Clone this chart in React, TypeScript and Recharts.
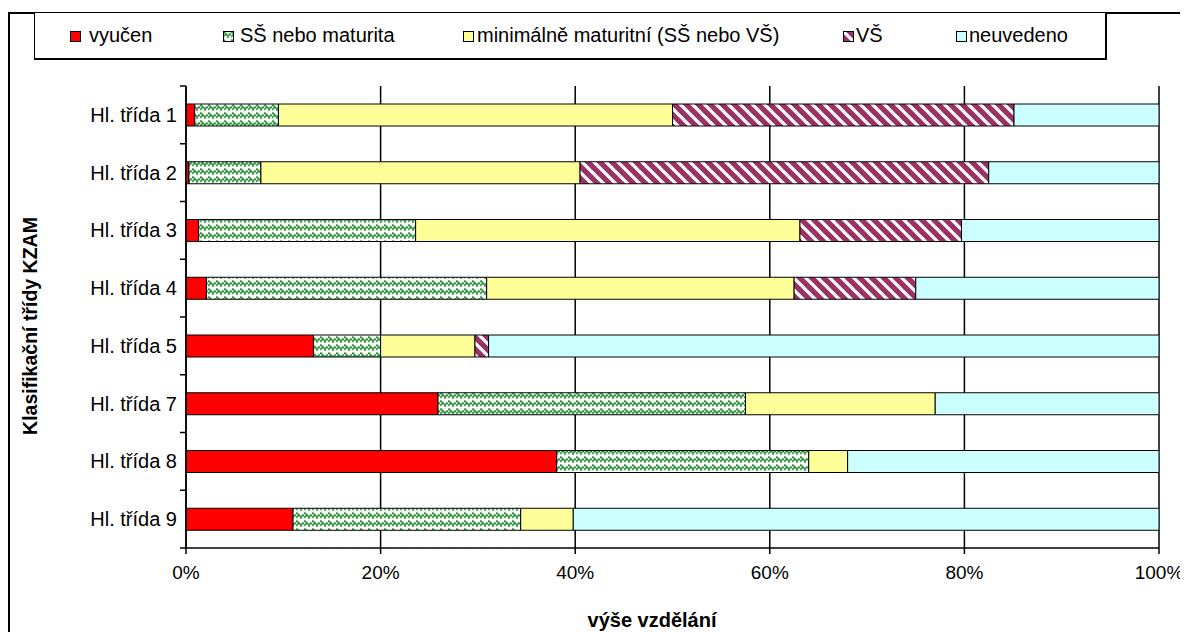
import React from 'react';
import { BarChart, Bar, XAxis, YAxis, CartesianGrid } from 'recharts';

const categories = ['Hl. třída 1', 'Hl. třída 2', 'Hl. třída 3', 'Hl. třída 4', 'Hl. třída 5', 'Hl. třída 7', 'Hl. třída 8', 'Hl. třída 9'];
const vyucen = [0.9, 0.3, 1.3, 2.1, 13.1, 25.9, 38.1, 11.0];
const ssNeboMaturita = [8.6, 7.4, 22.3, 28.8, 6.9, 31.6, 25.9, 23.4];
const minMaturitni = [40.5, 32.8, 39.5, 31.6, 9.7, 19.5, 4.0, 5.4];
const vs = [35.1, 42.0, 16.6, 12.5, 1.4, 0, 0, 0];
const neuvedeno = [14.9, 17.5, 20.3, 25.0, 68.9, 23.0, 32.0, 60.2];
const xTicks = [0, 0.2, 0.4, 0.6, 0.8, 1];

const seriesNames = ['vyučen', 'SŠ nebo maturita', 'minimálně maturitní (SŠ nebo VŠ)', 'VŠ', 'neuvedeno'];

const data = categories.map((c, i) => ({
  name: c,
  vyucen: vyucen[i],
  ss: ssNeboMaturita[i],
  min: minMaturitni[i],
  vs: vs[i],
  neu: neuvedeno[i],
}));

const W = 1180;
const H = 624;
const M_TOP = 78;
const M_RIGHT = 29;
const M_LEFT = 78;
const Y_W = 100;
const X_H = 40;
const M_BOTTOM = 44;
const PLOT_H = H - M_TOP - M_BOTTOM - X_H;
const BAND = PLOT_H / categories.length;

const FONT = '"Liberation Sans", Arial, sans-serif';

const YTick = (props: any) => {
  const { x, y, payload, index } = props;
  const half = BAND / 2;
  return (
    <g>
      <text x={x - 9} y={y} textAnchor="end" dominantBaseline="central" fontSize={20} fontFamily={FONT} fill="#000">
        {payload.value}
      </text>
      <line x1={x - 6} x2={x} y1={y + half} y2={y + half} stroke="#000" strokeWidth={1.5} />
      {index === 0 && <line x1={x - 6} x2={x} y1={y - half} y2={y - half} stroke="#000" strokeWidth={1.5} />}
    </g>
  );
};

// legend positions are in wrapper coordinates (page x - 8)
const legendItems = [
  { label: seriesNames[0], fill: '#FF0000', sq: 62, tx: 81 },
  { label: seriesNames[1], fill: 'url(#zig)', sq: 215, tx: 232 },
  { label: seriesNames[2], fill: '#FFFF99', sq: 455, tx: 469 },
  { label: seriesNames[3], fill: 'url(#stripe)', sq: 835, tx: 848 },
  { label: seriesNames[4], fill: '#CCFFFF', sq: 948, tx: 961 },
];

const ZigPattern = ({ id }: { id: string }) => (
  <pattern id={id} patternUnits="userSpaceOnUse" width={8} height={8}>
    <rect width={8} height={8} fill="#fff" />
    <path d="M0 6 L3 3 L5 5 L7 3 L8 4 M0 2 L1 1 L3 3 M5 5 L5 7" stroke="#2F9A3C" strokeWidth={1.6} fill="none" />
  </pattern>
);

const StripePattern = ({ id }: { id: string }) => (
  <pattern id={id} patternUnits="userSpaceOnUse" width={12} height={12}>
    <rect width={12} height={12} fill="#993366" />
    <path d="M0 0 L12 12 M-3 9 L3 15 M9 -3 L15 3" stroke="#fff" strokeWidth={3.2} />
  </pattern>
);

const LegendSwatch = ({ fill }: { fill: string }) => (
  <svg width={11} height={11} style={{ display: 'block' }}>
    <rect x={0.5} y={0.5} width={10} height={10} fill={fill} stroke="#000" strokeWidth={1} />
  </svg>
);

export default function App() {
  return (
    <div style={{ position: 'relative', width: W, height: H, fontFamily: FONT, overflow: 'hidden' }}>
      <svg width={0} height={0} style={{ position: 'absolute' }}>
        <defs>
          <ZigPattern id="zig" />
          <StripePattern id="stripe" />
        </defs>
      </svg>
      <div style={{ position: 'absolute', left: 0, top: 4, width: W, height: H, borderLeft: '2px solid #000', borderTop: '2px solid #000' }} />
      <div style={{ position: 'absolute', left: 26, top: 4, width: 1070, height: 45, border: '1px solid #000', borderRightWidth: 2, borderBottomWidth: 2, background: '#fff' }}>
        {legendItems.map((it) => (
          <React.Fragment key={it.label}>
            <div style={{ position: 'absolute', left: it.sq - 27, top: 18 }}>
              <LegendSwatch fill={it.fill} />
            </div>
            <div style={{ position: 'absolute', left: it.tx - 27, top: 0, height: 45, lineHeight: '45px', fontSize: 20, color: '#000', whiteSpace: 'nowrap' }}>
              {it.label}
            </div>
          </React.Fragment>
        ))}
      </div>
      <div style={{ position: 'absolute', left: 0, top: 0 }}>
        <BarChart
          width={W}
          height={H}
          data={data}
          layout="vertical"
          stackOffset="expand"
          margin={{ top: M_TOP, right: M_RIGHT, bottom: M_BOTTOM, left: M_LEFT }}
        >
          <defs>
            <ZigPattern id="zigc" />
            <StripePattern id="stripec" />
          </defs>
          <CartesianGrid horizontal={false} stroke="#000" strokeWidth={1.5} />
          <XAxis
            type="number"
            domain={[0, 1]}
            ticks={xTicks}
            tickFormatter={(v: number) => `${Math.round(v * 100)}%`}
            stroke="#000"
            strokeWidth={1.5}
            tickSize={6}
            tickMargin={12}
            height={X_H}
            tick={{ fill: '#000', fontSize: 19, fontFamily: FONT }}
            allowDataOverflow
          />
          <YAxis
            type="category"
            dataKey="name"
            width={Y_W}
            stroke="#000"
            strokeWidth={1.5}
            tickLine={false}
            tickSize={0}
            tickMargin={0}
            tick={<YTick />}
            interval={0}
          />
          <Bar dataKey="vyucen" stackId="a" fill="#FF0000" stroke="#000" strokeWidth={1} barSize={22} isAnimationActive={false} />
          <Bar dataKey="ss" stackId="a" fill="url(#zigc)" stroke="#000" strokeWidth={1} barSize={22} isAnimationActive={false} />
          <Bar dataKey="min" stackId="a" fill="#FFFF99" stroke="#000" strokeWidth={1} barSize={22} isAnimationActive={false} />
          <Bar dataKey="vs" stackId="a" fill="url(#stripec)" stroke="#000" strokeWidth={1} barSize={22} isAnimationActive={false} />
          <Bar dataKey="neu" stackId="a" fill="#CCFFFF" stroke="#000" strokeWidth={1} barSize={22} isAnimationActive={false} />
        </BarChart>
      </div>
      <div style={{ position: 'absolute', left: 22, top: 318, transform: 'translate(-50%, -50%) rotate(-90deg)', fontWeight: 'bold', fontSize: 19.5, whiteSpace: 'nowrap' }}>
        Klasifikační třídy KZAM
      </div>
      <div style={{ position: 'absolute', left: 644, top: 612, transform: 'translate(-50%, -50%)', fontWeight: 'bold', fontSize: 20, whiteSpace: 'nowrap' }}>
        výše vzdělání
      </div>
    </div>
  );
}
